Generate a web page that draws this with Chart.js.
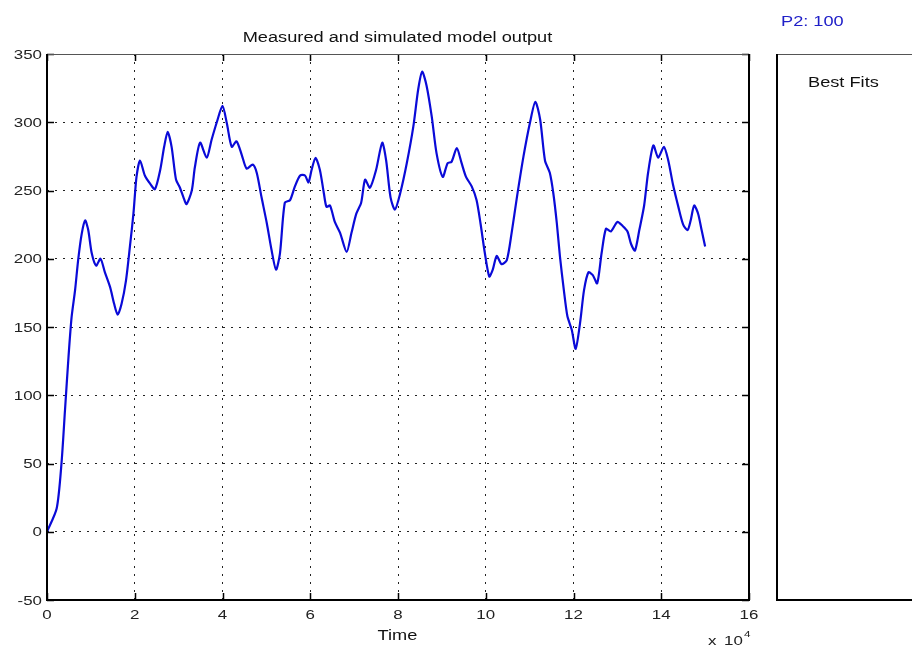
<!DOCTYPE html>
<html>
<head>
<meta charset="utf-8">
<title>Measured and simulated model output</title>
<script src="https://cdn.jsdelivr.net/npm/chart.js@4/dist/chart.umd.min.js"></script>
<style>
  html, body { margin: 0; padding: 0; background: #fff; }
  #wrap { width: 912px; height: 650px; }
</style>
</head>
<body>
<div id="wrap"><canvas id="out" width="912" height="650"></canvas></div>
<script>
/* ---------- Data ---------- */

// time in units of 1e4
const time = [
    0, 0.22, 0.33, 0.41, 0.49, 0.56, 0.64, 0.71, 0.79, 0.87,
    0.94, 1.02, 1.12, 1.22, 1.32, 1.44, 1.53, 1.61, 1.70, 1.80,
    1.89, 1.97, 2.04, 2.12, 2.23, 2.35, 2.46, 2.58, 2.67, 2.75,
    2.84, 2.94, 3.03, 3.11, 3.18, 3.30, 3.37, 3.49, 3.64, 3.75,
    3.87, 4.00, 4.10, 4.21, 4.32, 4.44, 4.55, 4.69, 4.78, 4.89,
    5.01, 5.12, 5.22, 5.31, 5.42, 5.54, 5.65, 5.77, 5.88, 5.96,
    6.03, 6.12, 6.22, 6.31, 6.37, 6.45, 6.56, 6.68, 6.83, 6.94,
    7.05, 7.16, 7.25, 7.36, 7.50, 7.64, 7.73, 7.83, 7.93, 8.05,
    8.20, 8.35, 8.46, 8.55, 8.65, 8.77, 8.88, 9.02, 9.13, 9.22,
    9.34, 9.45, 9.55, 9.68, 9.79, 9.88, 9.98, 10.08, 10.16, 10.25,
    10.36, 10.48, 10.59, 10.71, 10.86, 11.01, 11.13, 11.24, 11.35, 11.46,
    11.54, 11.62, 11.69, 11.78, 11.86, 11.96, 12.05, 12.15, 12.24, 12.34,
    12.44, 12.54, 12.64, 12.74, 12.85, 13.00, 13.12, 13.23, 13.31, 13.40,
    13.50, 13.61, 13.70, 13.82, 13.93, 14.06, 14.16, 14.27, 14.39, 14.50,
    14.60, 14.67, 14.75, 14.84, 14.92, 15.00
];

const output = [
    0, 17, 50, 89, 128, 157, 177, 199, 218, 228,
    221, 204, 195, 200, 190, 179, 167, 159, 167, 184,
    209, 233, 260, 272, 261, 255, 251, 265, 282, 293,
    282, 258, 252, 245, 240, 250, 267, 285, 274, 287,
    300, 312, 299, 282, 286, 276, 266, 269, 263, 245,
    226, 206, 192, 204, 241, 243, 253, 261, 261, 256,
    265, 274, 265, 248, 238, 239, 227, 219, 205, 219,
    233, 241, 258, 252, 265, 285, 272, 245, 236, 248,
    270, 297, 324, 337, 327, 304, 277, 260, 270, 271,
    281, 270, 260, 253, 243, 226, 204, 187, 192, 202,
    196, 199, 219, 245, 275, 300, 315, 302, 272, 263,
    248, 226, 202, 177, 158, 148, 134, 153, 177, 190,
    188, 182, 204, 222, 220, 227, 224, 220, 211, 206,
    221, 239, 263, 283, 274, 282, 272, 254, 238, 225,
    221, 228, 239, 233, 221, 209
];

const xTicks = { min: 0, max: 16, step: 2 };
const yTicks = { min: -50, max: 350, step: 50 };

const TITLE = "Measured and simulated model output";
const X_LABEL = "Time";
const PARAM_LABEL = "P2: 100";
const PANEL_LABEL = "Best Fits";

/* ---------- Text helpers ---------- */

const FONT = "'Liberation Sans', Arial, Helvetica, sans-serif";
const STRETCH = 1.3;   // wide screen font

function wideText(ctx, text, x, y, size, align, color, baseline) {
    ctx.save();
    ctx.translate(x, y);
    ctx.scale(STRETCH, 1);
    ctx.font = size + "px " + FONT;
    ctx.fillStyle = color || "#111";
    ctx.textAlign = align || "left";
    ctx.textBaseline = baseline || "alphabetic";
    ctx.fillText(text, 0, 0);
    ctx.restore();
}

/* ---------- Frame, ticks and labels ---------- */

const decor = {
    id: "decor",
    beforeDraw(chart) {
        const c = chart.ctx;
        c.save();
        c.fillStyle = "#fff";
        c.fillRect(0, 0, chart.width, chart.height);
        c.restore();
    },
    afterDraw(chart) {
        const c = chart.ctx;
        const a = chart.chartArea;
        const xs = chart.scales.x;
        const ys = chart.scales.y;
        const TL = 7;

        c.save();

        // inward tick marks on all four sides
        c.strokeStyle = "#000";
        c.lineWidth = 1.5;
        c.beginPath();
        xs.ticks.forEach(t => {
            const px = Math.round(xs.getPixelForValue(t.value)) + 0.5;
            c.moveTo(px, a.bottom); c.lineTo(px, a.bottom - TL);
            c.moveTo(px, a.top); c.lineTo(px, a.top + TL);
        });
        ys.ticks.forEach(t => {
            const py = Math.round(ys.getPixelForValue(t.value)) + 0.5;
            c.moveTo(a.left, py); c.lineTo(a.left + TL, py);
            c.moveTo(a.right, py); c.lineTo(a.right - TL, py);
        });
        c.stroke();

        // axes box
        c.strokeStyle = "#555";
        c.lineWidth = 1;
        c.beginPath();
        c.moveTo(a.left, a.top + 0.5); c.lineTo(a.right, a.top + 0.5);
        c.stroke();
        c.strokeStyle = "#000";
        c.lineWidth = 2;
        c.beginPath();
        c.moveTo(a.left, a.top); c.lineTo(a.left, a.bottom);
        c.lineTo(a.right, a.bottom); c.lineTo(a.right, a.top);
        c.stroke();

        // side panel
        const px0 = 777;
        c.strokeStyle = "#555";
        c.lineWidth = 1;
        c.beginPath();
        c.moveTo(px0, a.top + 0.5); c.lineTo(chart.width, a.top + 0.5);
        c.stroke();
        c.strokeStyle = "#000";
        c.lineWidth = 2;
        c.beginPath();
        c.moveTo(px0, a.top); c.lineTo(px0, a.bottom); c.lineTo(chart.width, a.bottom);
        c.stroke();
        c.restore();

        // tick labels
        ys.ticks.forEach(t => {
            wideText(c, String(t.value), a.left - 5, ys.getPixelForValue(t.value) + 1,
                13, "right", "#222", "middle");
        });
        xs.ticks.forEach(t => {
            wideText(c, String(t.value), xs.getPixelForValue(t.value), a.bottom + 15,
                13, "center", "#222", "middle");
        });

        // titles
        const cx = (a.left + a.right) / 2 - 0.5;
        wideText(c, TITLE, cx, 42, 14, "center", "#111");
        wideText(c, X_LABEL, cx, 640, 14, "center", "#111");

        // axis multiplier
        wideText(c, "x", 708, 645, 13, "left", "#222");
        wideText(c, "10", 724, 645, 13, "left", "#222");
        wideText(c, "4", 744, 637, 9, "left", "#222");

        wideText(c, PARAM_LABEL, 781, 26, 14, "left", "#2020c8");
        wideText(c, PANEL_LABEL, 808, 87, 14, "left", "#111");
    }
};

/* ---------- Chart ---------- */

const points = time.map((t, i) => ({ x: t, y: output[i] }));

new Chart(document.getElementById("out"), {
    type: "line",
    data: {
        datasets: [{
            data: points,
            borderColor: "#0a0ad8",
            borderWidth: 2.2,
            pointRadius: 0,
            tension: 0.25,
            fill: false
        }]
    },
    options: {
        responsive: false,
        animation: false,
        layout: { padding: { top: 54, right: 163, left: 0, bottom: 0 } },
        plugins: { legend: { display: false }, tooltip: { enabled: false } },
        scales: {
            x: {
                type: "linear",
                min: xTicks.min,
                max: xTicks.max,
                ticks: { stepSize: xTicks.step, display: false },
                grid: { color: "#222", lineWidth: 1, drawTicks: false },
                border: { display: false, dash: [2, 6] },
                afterFit: s => { s.height = 50; }
            },
            y: {
                min: yTicks.min,
                max: yTicks.max,
                ticks: { stepSize: yTicks.step, display: false },
                grid: { color: "#222", lineWidth: 1, drawTicks: false },
                border: { display: false, dash: [2, 6] },
                afterFit: s => { s.width = 47; }
            }
        }
    },
    plugins: [decor]
});
</script>
</body>
</html>
